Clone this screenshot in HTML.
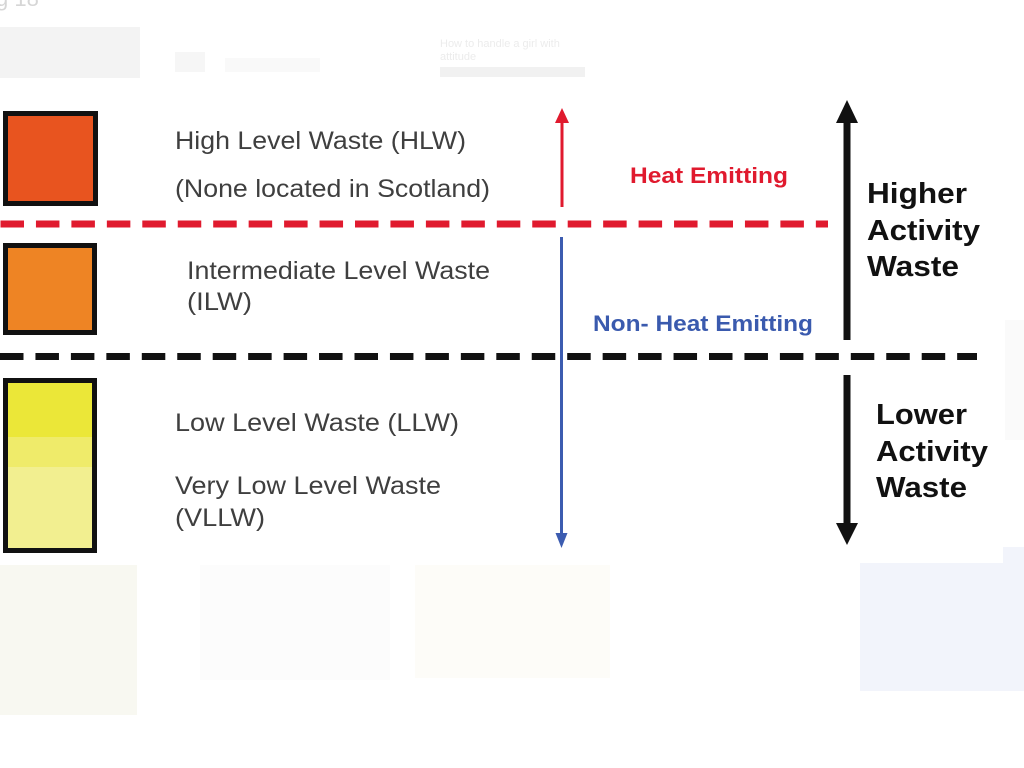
<!DOCTYPE html>
<html>
<head>
<meta charset="utf-8">
<style>
  html, body { margin:0; padding:0; background:#ffffff; }
  body { width:1024px; height:768px; overflow:hidden; }
  svg { display:block; }
  .t { font-family:"Liberation Sans", Arial, sans-serif; fill:#3f3f3f; font-size:25px; }
  .b { font-family:"Liberation Sans", Arial, sans-serif; font-weight:bold; }
</style>
</head>
<body>
<svg width="1024" height="768" viewBox="0 0 1024 768" xmlns="http://www.w3.org/2000/svg">
  <rect x="0" y="0" width="1024" height="768" fill="#ffffff"/>

  <!-- faint background page remnants -->
  <text x="-4" y="6" font-family="Liberation Sans, sans-serif" font-size="22" fill="#d6d6d6">g 18</text>
  <rect x="0" y="27" width="140" height="51" fill="#f3f3f3"/>
  <rect x="175" y="52" width="30" height="20" fill="#f6f6f6"/>
  <rect x="225" y="58" width="95" height="14" fill="#f9f9f9"/>
  <text x="440" y="47" font-family="Liberation Sans, sans-serif" font-size="11" fill="#ececec">How to handle a girl with</text>
  <text x="440" y="60" font-family="Liberation Sans, sans-serif" font-size="11" fill="#ececec">attitude</text>
  <rect x="440" y="67" width="145" height="10" fill="#f1f1f1"/>
  <rect x="0" y="565" width="137" height="150" fill="#f8f8f1"/>
  <rect x="200" y="565" width="190" height="115" fill="#fcfcfc"/>
  <rect x="415" y="565" width="195" height="113" fill="#fdfcf8"/>
  <rect x="860" y="563" width="164" height="128" fill="#f2f4fb"/>
  <rect x="1003" y="547" width="21" height="20" fill="#f2f4fb"/>
  <rect x="1005" y="320" width="19" height="120" fill="#fafafa"/>

  <!-- Boxes -->
  <rect x="5.5" y="113.5" width="90" height="90" fill="#e8541f" stroke="#111" stroke-width="5"/>
  <rect x="5.5" y="245.5" width="89" height="87" fill="#ee8424" stroke="#111" stroke-width="5"/>
  <rect x="8" y="383" width="84" height="54" fill="#ebe738"/>
  <rect x="8" y="437" width="84" height="30" fill="#efeb6a"/>
  <rect x="8" y="467" width="84" height="81" fill="#f2ef90"/>
  <rect x="5.5" y="380.5" width="89" height="170" fill="none" stroke="#111" stroke-width="5"/>

  <!-- Dashed lines -->
  <line x1="0.5" y1="224" x2="828" y2="224" stroke="#e01a2e" stroke-width="7" stroke-dasharray="23.5 11.95"/>
  <line x1="0" y1="356.5" x2="977" y2="356.5" stroke="#111" stroke-width="7" stroke-dasharray="23.5 11.95"/>

  <!-- Red up arrow -->
  <line x1="562" y1="207" x2="562" y2="120" stroke="#e01a2e" stroke-width="3"/>
  <polygon points="562,108 555,123 569,123" fill="#e01a2e"/>

  <!-- Blue down arrow -->
  <line x1="561.5" y1="237" x2="561.5" y2="536" stroke="#3c5cb0" stroke-width="3"/>
  <polygon points="561.5,548 555.5,533 567.5,533" fill="#3c5cb0"/>

  <!-- Black up arrow -->
  <rect x="843.5" y="118" width="7" height="222" fill="#111"/>
  <polygon points="847,100 836,123 858,123" fill="#111"/>

  <!-- Black down arrow -->
  <rect x="843.5" y="375" width="7" height="152" fill="#111"/>
  <polygon points="847,545 836,523 858,523" fill="#111"/>

  <!-- Left labels -->
  <text class="t" x="175" y="149" textLength="291" lengthAdjust="spacingAndGlyphs">High Level Waste (HLW)</text>
  <text class="t" x="175" y="197" textLength="315" lengthAdjust="spacingAndGlyphs">(None located in Scotland)</text>
  <text class="t" x="187" y="279" textLength="303" lengthAdjust="spacingAndGlyphs">Intermediate Level Waste</text>
  <text class="t" x="187" y="310" textLength="65" lengthAdjust="spacingAndGlyphs">(ILW)</text>
  <text class="t" x="175" y="431" textLength="284" lengthAdjust="spacingAndGlyphs">Low Level Waste (LLW)</text>
  <text class="t" x="175" y="494" textLength="266" lengthAdjust="spacingAndGlyphs">Very Low Level Waste</text>
  <text class="t" x="175" y="526" textLength="90" lengthAdjust="spacingAndGlyphs">(VLLW)</text>

  <!-- Middle labels -->
  <text class="b" x="630" y="183" font-size="22" fill="#e01a2e" textLength="158" lengthAdjust="spacingAndGlyphs">Heat Emitting</text>
  <text class="b" x="593" y="331" font-size="22" fill="#3a5aae" textLength="220" lengthAdjust="spacingAndGlyphs">Non- Heat Emitting</text>

  <!-- Right labels -->
  <text class="b" x="867" y="203" font-size="29" fill="#111" textLength="100" lengthAdjust="spacingAndGlyphs">Higher</text>
  <text class="b" x="867" y="240" font-size="29" fill="#111" textLength="113" lengthAdjust="spacingAndGlyphs">Activity</text>
  <text class="b" x="867" y="276" font-size="29" fill="#111" textLength="92" lengthAdjust="spacingAndGlyphs">Waste</text>

  <text class="b" x="876" y="424" font-size="29" fill="#111" textLength="91" lengthAdjust="spacingAndGlyphs">Lower</text>
  <text class="b" x="876" y="461" font-size="29" fill="#111" textLength="112" lengthAdjust="spacingAndGlyphs">Activity</text>
  <text class="b" x="876" y="497" font-size="29" fill="#111" textLength="91" lengthAdjust="spacingAndGlyphs">Waste</text>
</svg>
</body>
</html>
